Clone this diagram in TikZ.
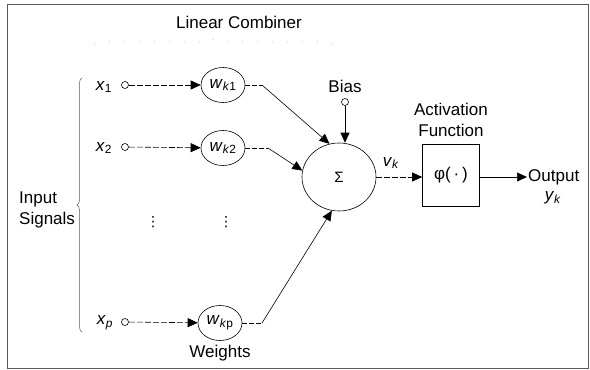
\documentclass[tikz,border=0pt]{standalone}
\usepackage{fontspec}
\setmainfont{Liberation Sans}
\newfontfamily\symfont{DejaVu Sans}
\usetikzlibrary{arrows.meta,decorations.pathreplacing,shapes.geometric}
\begin{document}
\begin{tikzpicture}[x=1pt,y=-1pt,
  font=\fontsize{17}{21}\selectfont,
  lbl/.style={inner sep=1pt},
  wnode/.style={draw,ellipse,minimum width=44pt,minimum height=35pt,inner sep=0pt,line width=0.6pt},
  src/.style={draw,circle,minimum size=7pt,inner sep=0pt,line width=0.6pt},
  sig/.style={line width=0.6pt,dash pattern=on 6pt off 2pt,-{Triangle[length=10pt,width=9pt]}},
  conn/.style={line width=0.6pt,-{Triangle[length=10pt,width=9pt]}},
  dotseg/.style={line width=0.6pt,dash pattern=on 5pt off 2pt},
  faint/.style={gray!55,line width=0.6pt},
  vdot/.style={inner sep=0pt,font=\symfont\fontsize{14}{16}\selectfont}
]
\useasboundingbox (0,0) rectangle (590,370);
\draw[line width=0.7pt,gray!70!black] (7,4) rectangle (588,368);

% title
\node[lbl] (lc) at (239,22) {Linear Combiner};
\draw[faint,dash pattern=on 1pt off 14pt,decorate,decoration={brace,amplitude=6pt,mirror}] (332,45) -- (93,45);

% input brace
\draw[line width=0.5pt,gray!70!black,decorate,decoration={brace,amplitude=5pt}] (82,332) -- (82,78);
\node[lbl,align=left,anchor=west] (in) at (18,210) {Input\\Signals};

% inputs
\node[lbl] (x1) at (104,87) {\textit{x}\textsubscript{1}};
\node[lbl] (x2) at (104,148) {\textit{x}\textsubscript{2}};
\node[lbl] (xp) at (105,323) {\textit{x}\textsubscript{\textit{p}}};
\node[src] (s1) at (125,85) {};
\node[src] (s2) at (125,147) {};
\node[src] (sp) at (125,322) {};

\node[wnode] (w1) at (223,85) {\textit{w}\textsubscript{\textit{k}1}};
\node[wnode] (w2) at (223,148) {\textit{w}\textsubscript{\textit{k}2}};
\node[wnode] (wp) at (220,323) {\textit{w}\textsubscript{\textit{k}p}};
\node[lbl] (wt) at (220,353) {Weights};

\node[vdot] (d1) at (153,222) {⋮};
\node[vdot] (d2) at (226,222) {⋮};

\draw[sig] (s1) -- (w1);
\draw[sig] (s2) -- (w2);
\draw[sig] (sp) -- (wp);

% summing junction
\node[draw,ellipse,minimum width=74pt,minimum height=68pt,line width=0.6pt,font=\fontsize{15}{17}\selectfont] (sum) at (339,177) {Σ};

\coordinate (k1) at (262,85);
\coordinate (k2) at (268,148);
\coordinate (kp) at (262,323);
\draw[dotseg] (w1) -- (k1);
\draw[dotseg] (w2) -- (k2);
\draw[dotseg] (wp) -- (kp);
\draw[conn] (k1) -- (sum.106);
\draw[conn] (k2) -- (sum.170);
\draw[conn] (kp) -- (sum.258);

\node[lbl] (bias) at (345,86) {Bias};
\node[src] (b) at (345,102) {};
\draw[conn] (b) -- (b |- sum.north);

% activation
\node[draw,minimum width=57pt,minimum height=62pt,line width=0.6pt] (act) at (451,175) {φ(\,·\,)};
\node[lbl,align=center] (actl) at (451,120) {Activation\\Function};
\node[lbl] (vk) at (391,163) {\textit{v}\textsubscript{\textit{k}}};
\draw[sig] (sum.east) -- (sum.east -| act.west);

\node[lbl,anchor=west] (out) at (527,177) {Output};
\node[lbl] (yk) at (553,198) {\textit{y}\textsubscript{\textit{k}}};
\draw[conn] (act.east |- out.west) -- (out.west);
\end{tikzpicture}
\end{document}
